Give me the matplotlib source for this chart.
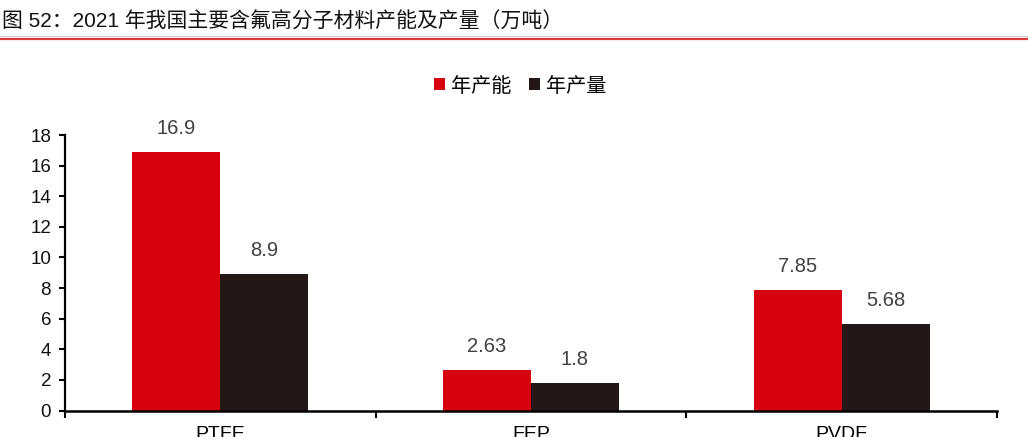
import numpy as np
import matplotlib
matplotlib.use("Agg")
import matplotlib.pyplot as plt
from matplotlib.lines import Line2D

plt.rcParams["font.family"] = ["Liberation Sans", "Noto Sans CJK SC"]

# data (万吨)
materials = ["PTFE", "FEP", "PVDF"]
capacity = [16.9, 2.63, 7.85]
output = [8.9, 1.8, 5.68]
series_names = ["年产能", "年产量"]
title = "图 52：2021 年我国主要含氟高分子材料产能及产量（万吨）"

RED = "#D7000F"
DARK = "#231815"

W, H = 1028, 437
fig = plt.figure(figsize=(W / 100, H / 100), dpi=100)
ax = fig.add_axes([65 / W, 1 - 410.5 / H, (997 - 65) / W, (410.5 - 135) / H])

x = np.arange(len(materials))
bw = 0.283
b1 = ax.bar(x - bw / 2, capacity, bw, color=RED, label=series_names[0])
b2 = ax.bar(x + bw / 2, output, bw, color=DARK, label=series_names[1])
for bars in (b1, b2):
    ax.bar_label(bars, labels=[f"{v:g}" for v in bars.datavalues],
                 padding=10, fontsize=14.5, color="#404040")

ax.set_xlim(-0.5, len(materials) - 0.5)
ax.set_ylim(0, 18)
ax.set_yticks(np.arange(0, 19, 2))
ax.set_xticks(x)
ax.set_xticklabels(materials, fontsize=14)
ax.set_xticks(np.arange(-0.5, len(materials)), minor=True)
ax.tick_params(axis="x", which="major", length=0, pad=11)
ax.tick_params(axis="x", which="minor", length=5, width=1.5, direction="out")
ax.tick_params(axis="y", length=4, width=1.5, labelsize=13.5, pad=6,
               labelcolor="#111111")

for s in ("top", "right"):
    ax.spines[s].set_visible(False)
ax.spines["left"].set_linewidth(1.6)
ax.spines["bottom"].set_linewidth(1.8)

fig.legend(loc="center", bbox_to_anchor=(0.506, 1 - 86 / H), ncol=2,
           frameon=False, fontsize=14.5, handlelength=0.55, handleheight=0.55,
           handletextpad=0.3, columnspacing=0.9)

fig.text(0.002, 1 - 22 / H, title, fontsize=15, color="#111111", va="center")
fig.add_artist(Line2D([0, 1], [1 - 36 / H] * 2, color="#d0d0d0", lw=0.8))
fig.add_artist(Line2D([0, 1], [1 - 39 / H] * 2, color="#D93A3A", lw=1.6))

fig.savefig("out.png", dpi=100)
